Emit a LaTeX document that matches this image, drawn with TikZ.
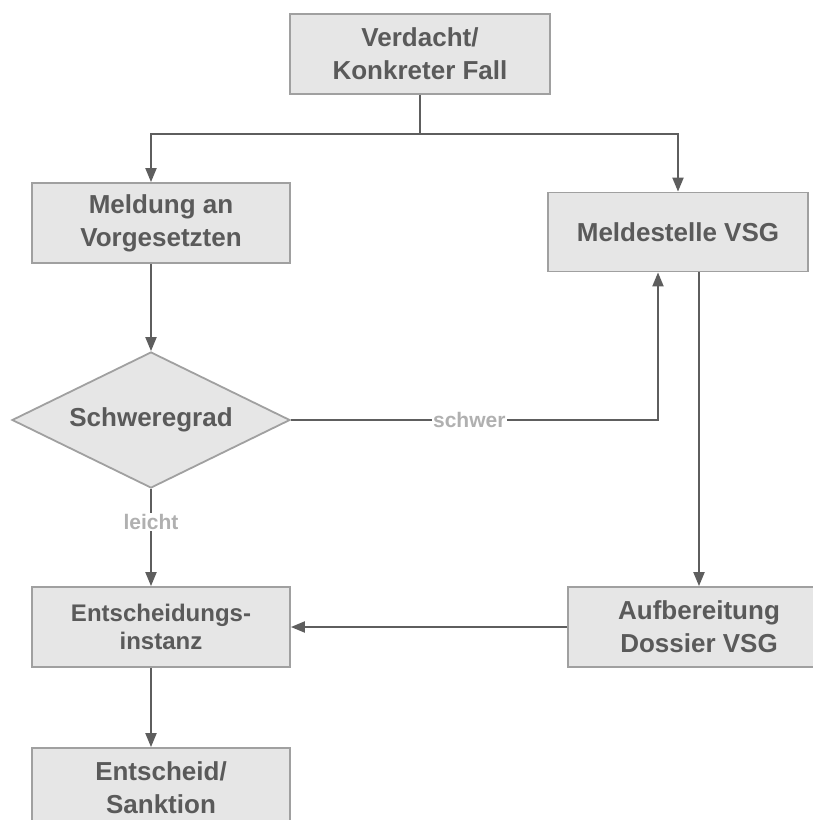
\documentclass[tikz,border=0pt]{standalone}
\usepackage{fontspec}
\setmainfont{Liberation Sans}
\usepackage{xcolor}
\usetikzlibrary{positioning,shapes.geometric,arrows.meta}

\definecolor{boxfill}{HTML}{E6E6E6}
\definecolor{boxline}{HTML}{A0A0A0}
\definecolor{linegray}{HTML}{5E5E5E}
\definecolor{textgray}{HTML}{5A5A5A}
\definecolor{lblgray}{HTML}{B0B0B0}

\begin{document}
\begin{tikzpicture}[
  x=1pt, y=-1pt,
  box/.style={rectangle, draw=boxline, line width=1.8pt, fill=boxfill, minimum width=258pt, minimum height=80pt, inner sep=0pt, align=center, text=textgray, font=\fontsize{26}{33}\selectfont\bfseries},
  decision/.style={diamond, draw=boxline, line width=1.8pt, fill=boxfill, minimum width=278pt, minimum height=136pt, inner sep=0pt, aspect=2, text=textgray, font=\fontsize{26}{33}\selectfont\bfseries},
  arr/.style={-{Triangle[length=14pt, width=11pt]}, line width=2pt, draw=linegray},
  conn/.style={line width=2pt, draw=linegray},
  lbl/.style={fill=white, inner sep=1.5pt, text=lblgray, font=\fontsize{21}{24}\selectfont\bfseries}
]
\useasboundingbox (0,0) rectangle (813,820);

% Boxes
\node[box, minimum width=260pt] (fall) at (420,54) {Verdacht/\\Konkreter Fall};
\node[box] (meld) at (161,223) {Meldung an\\Vorgesetzten};
\node[box, minimum width=260pt, minimum height=79pt] (vsg) at (678,232) {Meldestelle VSG};
\node[decision] (grad) at (151,420) {Schweregrad};
\node[box, font=\fontsize{24}{28}\selectfont\bfseries] (inst) at (161,627) {Entscheidungs-\\instanz};
\node[box, minimum width=262pt] (doss) at (699,627) {Aufbereitung\\Dossier VSG};
\node[box] (sank) at (161,788) {Entscheid/\\Sanktion};

% Split below the first box
\draw[conn] (fall.south) -- ++(0,39) coordinate (split);
\draw[arr] (split) -| ([xshift=-10pt]meld.north);
\draw[arr] (split) -| (vsg.north);

% Left branch
\draw[arr] ([xshift=-10pt]meld.south) -- (grad.north);
\draw[arr] (grad.south) -- (grad.south |- inst.north) node[lbl, pos=0.34]{leicht};
\draw[arr] ([xshift=-10pt]inst.south) -- ([xshift=-10pt]sank.north);

% Right branch
\draw[arr] (grad.east) -| ([xshift=-20pt]vsg.south) node[lbl, pos=0.243]{schwer};
\draw[arr] (doss.north |- vsg.south) -- (doss.north);
\draw[arr] (doss.west) -- (inst.east);

\end{tikzpicture}
\end{document}
